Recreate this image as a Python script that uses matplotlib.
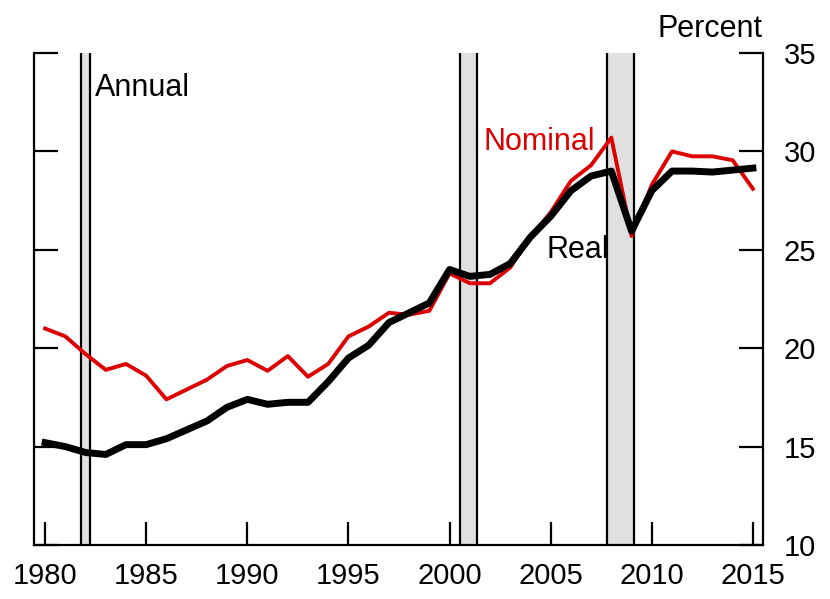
#!/usr/bin/env python3
"""Nominal and real share chart, annual, with recession bars."""

import matplotlib
matplotlib.use("Agg")
import matplotlib.pyplot as plt

plt.rcParams["font.family"] = ["Liberation Sans", "DejaVu Sans"]

years = list(range(1980, 2016))
nominal = [21.0, 20.6, 19.7, 18.9, 19.2, 18.6, 17.4, 17.9, 18.4, 19.1,
           19.4, 18.85, 19.6, 18.55, 19.2, 20.6, 21.1, 21.8, 21.7, 21.9,
           23.8, 23.3, 23.3, 24.1, 25.65, 26.9, 28.5, 29.3, 30.7, 25.7,
           28.3, 30.0, 29.75, 29.75, 29.55, 28.1]
real = [15.2, 15.0, 14.7, 14.6, 15.1, 15.1, 15.4, 15.85, 16.3, 17.0,
        17.4, 17.15, 17.25, 17.25, 18.3, 19.5, 20.15, 21.3, 21.8, 22.3,
        24.0, 23.65, 23.75, 24.3, 25.65, 26.7, 28.0, 28.75, 29.0, 25.95,
        28.0, 29.0, 29.0, 28.95, 29.05, 29.15]
recessions = [(1981.78, 1982.2), (2000.51, 2001.37), (2007.8, 2009.1)]
x_ticks = [1980, 1985, 1990, 1995, 2000, 2005, 2010, 2015]
y_ticks = [10, 15, 20, 25, 30, 35]

RED = "#dd0000"
FS = 21

fig = plt.figure(figsize=(8.30, 5.99), dpi=100)
fig.patch.set_facecolor("white")
ax = fig.add_axes([34 / 830, 1 - 545 / 599, (763 - 34) / 830, (545 - 53) / 599])
ax.set_facecolor("white")
ax.set_xlim(1979.45, 2015.5)
ax.set_ylim(10, 35)

for start, end in recessions:
    ax.axvspan(start, end, facecolor="#e0e0e0", edgecolor="none", zorder=0)
    ax.axvline(start, color="black", linewidth=1.6, zorder=1)
    ax.axvline(end, color="black", linewidth=1.6, zorder=1)

ax.plot(years, nominal, color=RED, linewidth=2.8, solid_joinstyle="round", zorder=3)
ax.plot(years, real, color="black", linewidth=5.0, solid_joinstyle="round", zorder=4)

for side in ["left", "right", "bottom"]:
    ax.spines[side].set_linewidth(1.6)
ax.spines["top"].set_visible(False)

ax.set_xticks(x_ticks)
ax.set_xticklabels([str(y) for y in x_ticks], fontsize=FS)
ax.tick_params(axis="x", direction="in", length=16.5, width=1.6, pad=12)

ax.yaxis.tick_right()
ax.set_yticks(y_ticks)
ax.set_yticklabels([str(v) for v in y_ticks], fontsize=FS)
ax.tick_params(axis="y", which="major", direction="in", length=17, width=1.6,
               pad=15, left=True, right=True, labelleft=False, labelright=True)
ax.set_yticks([35], minor=True)
ax.tick_params(axis="y", which="minor", direction="in", length=34, width=1.6,
               left=True, right=True)

ax.text(1982.45, 33.2, "Annual", fontsize=22, ha="left", va="center")
ax.text(2001.7, 30.5, "Nominal", fontsize=22, color=RED, ha="left", va="center")
ax.text(2004.77, 25.0, "Real", fontsize=22, ha="left", va="center")
fig.text(762 / 830, 1 - 29 / 599, "Percent", fontsize=22, ha="right", va="center")

fig.savefig("out.png", dpi=100)
plt.close(fig)
